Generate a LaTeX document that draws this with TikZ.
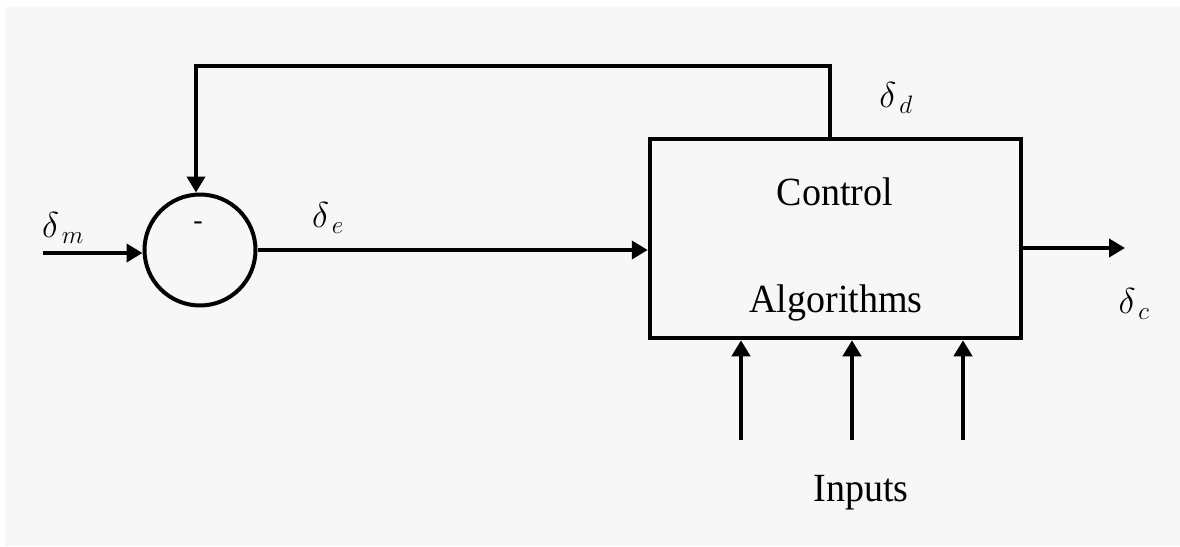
\RequirePackage{fix-cm}
\documentclass[tikz,border=0pt]{standalone}
\usepackage{fontspec}
\setmainfont{Liberation Serif}
\usetikzlibrary{arrows.meta}
\definecolor{panel}{HTML}{F7F7F7}
\begin{document}
\begin{tikzpicture}[x=1pt,y=-1pt,
  wire/.style={line width=4.5pt},
  arr/.style={wire,-{Triangle[width=18pt,length=16pt]}},
  lbl/.style={font=\fontsize{40}{48}\selectfont, xscale=0.95, inner sep=0pt},
  sym/.style={font=\fontsize{36}{42}\selectfont, inner sep=0pt}]
  % canvas and light panel
  \useasboundingbox (0,0) rectangle (1180,546);
  \fill[white] (0,0) rectangle (1180,546);
  \fill[panel] (5,7) rectangle (1180,546);

  % summing junction and controller block
  \node[draw, circle, line width=4pt, minimum size=111pt, inner sep=0pt] (sum) at (200,250) {};
  \node[draw, rectangle, line width=4.5pt, minimum width=371pt, minimum height=199pt, inner sep=0pt] (ctrl) at (835.5,238.5) {};
  \node[lbl, anchor=base] (ctrlA) at (835,205) {Control};
  \node[lbl, anchor=base] (ctrlB) at (836,312) {Algorithms};
  \node[font=\fontsize{28}{32}\selectfont, inner sep=0pt, anchor=base] (minus) at (198,229) {-};

  % free ends of the signal lines
  \coordinate (min) at (43,253);
  \coordinate (fb) at (830,137);
  \coordinate (cout) at (1125,248);
  \coordinate (in1) at (741,440);
  \coordinate (in2) at (852,440);
  \coordinate (in3) at (963,440);

  % signal lines
  \draw[arr] (min) -- (min -| sum.west);
  \draw[arr] (sum.east) -- (ctrl.west |- sum.east);
  \draw[arr] (fb) -- ++(0,-71) -| ([xshift=-4pt]sum.north);
  \draw[arr] (ctrl.east |- cout) -- (cout);
  \foreach \i in {in1,in2,in3}
    \draw[arr] (\i) -- (\i |- ctrl.south);

  % signal labels
  \node[sym] (dm) at (63,228) {$\delta_{\,m}$};
  \node[sym] (de) at (328,218) {$\delta_{\,e}$};
  \node[sym] (dd) at (896,98) {$\delta_{\,d}$};
  \node[sym] (dc) at (1134,304) {$\delta_{\,c}$};
  \node[lbl, anchor=base] (inputs) at (861,501) {Inputs};
\end{tikzpicture}
\end{document}
